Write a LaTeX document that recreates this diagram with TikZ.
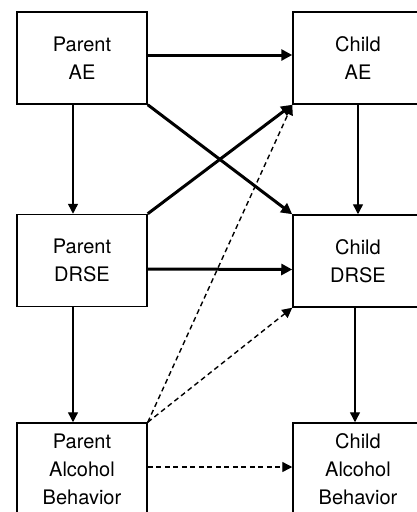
\documentclass[tikz,border=0pt]{standalone}
\usepackage{fontspec}
\setmainfont{TeX Gyre Heros}
\usetikzlibrary{arrows.meta}
\begin{document}
\begin{tikzpicture}[x=1pt,y=-1pt,
  box/.style={draw,line width=1.5pt,minimum width=130pt,minimum height=92pt,
    inner sep=0pt,align=center,font=\fontsize{20pt}{28pt}\selectfont},
  thickarr/.style={line width=3pt,-{Triangle[length=11pt,width=11pt]}},
  thinarr/.style={line width=1.4pt,-{Triangle[length=10pt,width=10pt]}},
  dasharr/.style={line width=1.4pt,dash pattern=on 5pt off 3.5pt,-{Triangle[length=10pt,width=10pt]}}]
\useasboundingbox (0,0) rectangle (417,512);
\clip (0,0) rectangle (417,512);
\fill[white] (0,0) rectangle (417,512);
\node[box] (pae) at (82,58) {Parent\\AE};
\node[box] (cae) at (358,58) {Child\\AE};
\node[box] (pdr) at (82,260.5) {Parent\\DRSE};
\node[box] (cdr) at (358,261) {Child\\DRSE};
\node[box,text depth=0pt] (pab) at (82,469) {Parent\\Alcohol\\Behavior};
\node[box] (cab) at (358,469) {Child\\Alcohol\\Behavior};
% thick paths
\draw[thickarr] ([yshift=3pt]pae.east) -- ([yshift=3pt]cae.west);
\draw[thickarr] (pae.south east) -- (cdr.north west);
\draw[thickarr] (pdr.north east) -- (cae.south west);
\draw[thickarr] ([yshift=-8.5pt]pdr.east) -- ([yshift=-8.5pt]cdr.west);
% thin paths
\draw[thinarr] ([xshift=-9pt]pae.south) -- ([xshift=-9pt]pdr.north);
\draw[thinarr] ([xshift=-9pt]pdr.south) -- ([xshift=-9pt]pab.north);
\draw[thinarr] (cae.south) -- (cdr.north);
\draw[thinarr] ([xshift=-3pt]cdr.south) -- ([xshift=-3pt]cab.north);
% dashed paths
\draw[dasharr] (pab.north east) -- (cae.south west);
\draw[dasharr] (pab.north east) -- (cdr.south west);
\draw[dasharr] ([yshift=2pt]pab.east) -- ([yshift=2pt]cab.west);
\end{tikzpicture}
\end{document}
